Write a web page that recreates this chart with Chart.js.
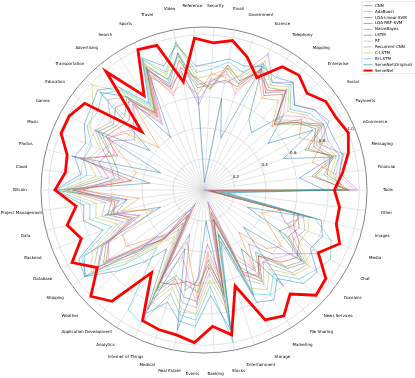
<!DOCTYPE html>
<html><head><meta charset="utf-8">
<script src="https://cdn.jsdelivr.net/npm/chart.js@4.4.0/dist/chart.umd.min.js"></script>
<style>html,body{margin:0;padding:0;background:#fff}canvas{display:block}</style>
</head><body>
<canvas id="c" width="415" height="378"></canvas>
<script>
// Categories in counter-clockwise order starting at 3 o'clock
const categories = ["Tools","Financial","Messaging","eCommerce","Payments","Social","Enterprise","Mapping","Telephony","Science",
"Government","Email","Security","Reference","Video","Travel","Sports","Search","Advertising","Transportation",
"Education","Games","Music","Photos","Cloud","Bitcoin","Project Management","Data","Backend","Database",
"Shipping","Weather","Application Development","Analytics","Internet of Things","Medical","Real Estate","Events","Banking","Stocks",
"Entertainment","Storage","Marketing","File Sharing","News Services","Domains","Chat","Media","Images","Other"];
const radialTicks = [0.2, 0.4, 0.6, 0.8, 1.0];
const seriesNames = ["CNN","AdaBoost","LDA-Linear-SVM","LDA-RBF-SVM","NaiveBayes","LSTM","RF","Recurrent-CNN","C-LSTM","Bi-LSTM","ServeNet(Original)","ServeNet"];

const cnn = [0.78,0.62,0.85,0.55,0.80,0.51,0.70,0.48,0.54,0.88,
 0.35,0.60,0.05,0.60,0.90,0.72,0.85,0.40,0.78,0.92,
 0.43,0.80,0.30,0.88,0.35,0.97,0.50,0.66,0.30,0.88,
 0.95,0.55,0.20,0.15,0.85,0.40,0.92,0.55,0.20,0.90,
 0.30,0.75,0.45,0.80,0.35,0.78,0.60,0.30,0.72,0.10];
const adaBoost = [0.90,0.85,0.72,0.82,0.70,0.78,0.60,0.75,0.70,0.82,
 0.68,0.74,0.75,0.62,0.70,0.66,0.82,0.55,0.70,0.40,
 0.62,0.70,0.55,0.45,0.48,0.80,0.42,0.55,0.35,0.60,
 0.62,0.45,0.38,0.12,0.55,0.35,0.48,0.70,0.40,0.58,
 0.10,0.45,0.60,0.35,0.55,0.62,0.48,0.40,0.52,0.02];
const ldaLinearSvm = [0.92,0.72,0.88,0.70,0.86,0.72,0.62,0.83,0.78,0.86,
 0.72,0.80,0.65,0.70,0.88,0.75,0.88,0.58,0.78,0.70,
 0.70,0.75,0.65,0.58,0.55,0.85,0.55,0.62,0.48,0.72,
 0.80,0.55,0.40,0.20,0.70,0.58,0.62,0.66,0.45,0.68,
 0.15,0.55,0.68,0.52,0.72,0.78,0.55,0.62,0.60,0.03];
const ldaRbfSvm = [0.94,0.70,0.86,0.72,0.88,0.74,0.62,0.83,0.76,0.84,
 0.74,0.82,0.66,0.72,0.80,0.68,0.86,0.56,0.76,0.66,
 0.68,0.72,0.60,0.82,0.47,0.84,0.58,0.60,0.50,0.70,
 0.78,0.52,0.42,0.18,0.66,0.64,0.60,0.62,0.48,0.64,
 0.20,0.58,0.66,0.55,0.68,0.74,0.70,0.62,0.64,0.05];
const naiveBayes = [0.99,0.88,0.93,0.80,0.92,0.88,0.80,0.90,0.82,0.97,
 0.78,0.70,0.72,0.55,0.78,0.70,0.80,0.50,0.72,0.62,
 0.55,0.66,0.70,0.62,0.58,0.78,0.50,0.58,0.45,0.75,
 0.85,0.48,0.36,0.10,0.60,0.30,0.66,0.58,0.35,0.55,
 0.08,0.50,0.62,0.45,0.60,0.70,0.85,0.56,0.50,0.00];
const lstm = [0.93,0.80,0.84,0.76,0.82,0.74,0.64,0.80,0.72,0.86,
 0.70,0.72,0.68,0.66,0.85,0.70,0.87,0.59,0.74,0.78,
 0.72,0.78,0.66,0.70,0.62,0.88,0.60,0.64,0.52,0.74,
 0.84,0.58,0.40,0.25,0.72,0.60,0.70,0.72,0.50,0.70,
 0.20,0.60,0.70,0.55,0.74,0.80,0.62,0.66,0.62,0.04];
const rf = [0.97,0.86,0.90,0.84,0.88,0.80,0.70,0.84,0.74,0.88,
 0.65,0.78,0.70,0.58,0.76,0.64,0.84,0.52,0.72,0.58,
 0.64,0.70,0.62,0.80,0.52,0.82,0.56,0.62,0.44,0.70,
 0.76,0.50,0.38,0.20,0.64,0.45,0.56,0.74,0.42,0.62,
 0.15,0.62,0.64,0.60,0.64,0.70,0.66,0.58,0.68,0.02];
const recurrentCnn = [0.91,0.78,0.86,0.78,0.84,0.76,0.66,0.82,0.74,0.90,
 0.72,0.76,0.70,0.68,0.90,0.74,0.90,0.60,0.78,0.85,
 0.74,0.80,0.70,0.74,0.66,0.90,0.64,0.68,0.56,0.78,
 0.88,0.62,0.42,0.30,0.78,0.62,0.74,0.76,0.54,0.74,
 0.22,0.64,0.72,0.60,0.78,0.82,0.66,0.70,0.66,0.06];
const cLstm = [0.90,0.82,0.88,0.82,0.86,0.82,0.74,0.86,0.80,0.92,
 0.76,0.80,0.74,0.72,0.97,0.78,0.92,0.62,0.82,0.99,
 0.88,0.84,0.72,0.78,0.70,0.92,0.70,0.72,0.60,0.82,
 0.90,0.66,0.45,0.35,0.82,0.66,0.78,0.80,0.58,0.80,
 0.28,0.70,0.76,0.66,0.80,0.84,0.70,0.72,0.70,0.08];
const biLstm = [0.88,0.84,0.90,0.86,0.88,0.84,0.76,0.88,0.82,0.90,
 0.80,0.84,0.78,0.76,0.97,0.80,0.93,0.64,0.84,0.90,
 0.85,0.86,0.78,0.80,0.76,0.95,0.74,0.76,0.64,0.90,
 0.94,0.70,0.48,0.91,0.95,0.70,0.82,0.84,0.62,1.00,
 0.30,0.74,0.80,0.70,0.84,0.88,0.93,0.88,0.74,0.12];
const serveNetOriginal = [0.86,0.88,0.92,0.90,0.90,0.88,0.80,0.90,0.86,0.88,
 0.84,0.86,0.82,0.80,0.95,0.84,0.94,0.66,0.86,0.94,
 0.90,0.88,0.82,0.86,0.80,0.96,0.78,0.80,0.70,0.92,
 0.95,0.76,0.60,0.45,0.88,0.76,0.86,0.88,0.68,0.92,
 0.35,0.80,0.84,0.74,0.88,0.90,0.78,0.82,0.78,0.15];
const serveNet = [0.84,0.90,0.96,1.00,0.97,0.97,0.91,0.96,0.94,0.80,
 0.90,0.98,0.95,0.98,0.71,0.98,1.00,0.72,0.99,0.55,
 0.95,0.99,0.99,0.91,0.90,0.96,0.83,0.91,0.85,0.97,
 0.85,1.00,0.93,0.63,0.93,0.945,0.95,0.985,0.88,0.95,
 0.65,0.925,0.96,0.87,0.99,0.97,0.84,0.94,0.88,0.88];

const seriesValues = [cnn, adaBoost, ldaLinearSvm, ldaRbfSvm, naiveBayes, lstm, rf, recurrentCnn, cLstm, biLstm, serveNetOriginal, serveNet];
const colors = ['rgba(31,119,180,0.6)','rgba(255,127,14,0.6)','rgba(44,160,44,0.6)','rgba(214,39,40,0.6)',
 'rgba(148,103,189,0.6)','rgba(140,86,75,0.6)','rgba(227,119,194,0.6)','rgba(127,127,127,0.5)',
 'rgba(188,189,34,0.6)','rgba(23,190,207,0.6)','rgba(31,119,180,0.6)','#ff0000'];

// Chart.js goes clockwise: start at Tools (3 o'clock) and walk the list backwards
const order = [0];
for (let k = categories.length - 1; k >= 1; k--) order.push(k);
const labels = order.map(k => categories[k]);

const datasets = seriesNames.map((name, i) => ({
  label: name,
  data: order.map(k => seriesValues[i][k]),
  borderColor: colors[i],
  backgroundColor: colors[i],
  borderWidth: i === 11 ? 2.8 : 0.8,
  fill: false,
  pointRadius: 0,
  pointHoverRadius: 0,
  tension: 0,
  order: 20 - i
}));

const RMAX = 1.05;

const overlay = {
  id: 'overlay',
  afterDraw(chart) {
    const ctx = chart.ctx;
    const s = chart.scales.r;
    ctx.save();
    ctx.fillStyle = '#000';
    ctx.font = '4px "DejaVu Sans"';
    ctx.textAlign = 'center';
    ctx.textBaseline = 'middle';
    chart.data.labels.forEach((lab, i) => {
      const p = s.getPointPosition(i, s.drawingArea + 21);
      ctx.fillText(lab, p.x, p.y);
    });
    const a = 22.5 * Math.PI / 180;
    radialTicks.forEach(v => {
      const d = s.getDistanceFromCenterForValue(v) + 3.5;
      ctx.fillText(v.toFixed(1), s.xCenter + d * Math.cos(a), s.yCenter - d * Math.sin(a));
    });
    const lx = 362, ly = 1.5, lw = 60, lh = 72;
    ctx.fillStyle = 'rgba(255,255,255,0.85)';
    ctx.strokeStyle = '#d8d8d8';
    ctx.lineWidth = 0.6;
    ctx.beginPath();
    ctx.roundRect(lx, ly, lw, lh, 1.5);
    ctx.fill(); ctx.stroke();
    ctx.textAlign = 'left';
    seriesNames.forEach((name, i) => {
      const y = 5.7 + i * 5.9;
      ctx.strokeStyle = colors[i];
      ctx.lineWidth = i === 11 ? 2 : 0.9;
      ctx.beginPath(); ctx.moveTo(363.5, y); ctx.lineTo(372.5, y); ctx.stroke();
      ctx.fillStyle = '#000';
      ctx.fillText(name, 375, y);
    });
    ctx.restore();
  }
};

new Chart(document.getElementById('c'), {
  type: 'radar',
  data: { labels, datasets },
  options: {
    responsive: false,
    animation: false,
    events: [],
    layout: { padding: { left: 41, top: 27, right: 48, bottom: 25 } },
    plugins: { legend: { display: false }, tooltip: { enabled: false } },
    elements: { line: { tension: 0, borderJoinStyle: 'miter' } },
    scales: {
      r: {
        min: 0, max: RMAX,
        startAngle: 90,
        afterBuildTicks: (scale) => {
          scale.ticks = [0].concat(radialTicks, [RMAX]).map(v => ({ value: v }));
        },
        ticks: { display: false, showLabelBackdrop: false },
        pointLabels: { display: false },
        grid: {
          circular: true,
          color: (c) => (c.tick && c.tick.value === RMAX) ? '#777' : '#d4d4d4',
          lineWidth: (c) => (c.tick && c.tick.value === RMAX) ? 0.9 : 0.7
        },
        angleLines: { display: true, color: '#d4d4d4', lineWidth: 0.6 }
      }
    }
  },
  plugins: [overlay]
});
</script>
</body></html>
